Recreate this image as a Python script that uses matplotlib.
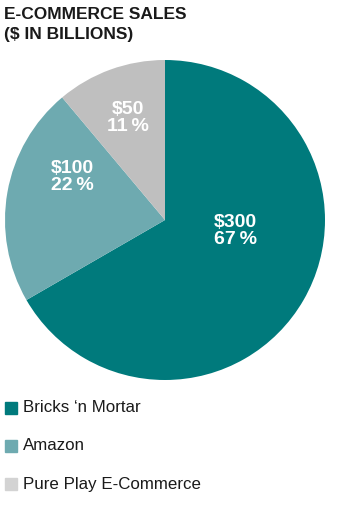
import matplotlib.pyplot as plt
from matplotlib.patches import Rectangle

# data
categories = ['Bricks \u2018n Mortar', 'Amazon', 'Pure Play E-Commerce']
sales = [300, 100, 50]
pct_labels = ['67\u2009%', '22\u2009%', '11\u2009%']
colors = ['#007a7c', '#6eaab0', '#bfbfbf']
legend_colors = ['#007a7c', '#6eaab0', '#d3d3d3']
# label spots inside each slice (data coords of the pie axes)
label_xy = [(0.44, -0.07), (-0.58, 0.27), (-0.23, 0.64)]

plt.rcParams['font.family'] = ['Liberation Sans', 'DejaVu Sans']

fig = plt.figure(figsize=(3.53, 5.11), dpi=100)
W, H = 353, 511

ax = fig.add_axes([5 / W, (H - 380) / H, 320 / W, 320 / H])
ax.pie(sales, colors=colors, startangle=90, counterclock=False,
       radius=1, wedgeprops=dict(linewidth=0))
ax.set_xlim(-1, 1)
ax.set_ylim(-1, 1)
ax.set_aspect('equal')
ax.axis('off')

for (x, y), v, p in zip(label_xy, sales, pct_labels):
    ax.text(x, y, f'${v}\n{p}', color='white', fontsize=14, fontweight='bold',
            ha='center', va='center', linespacing=1.0)

# title
fig.text(4 / W, 1 - 7 / H, 'E-COMMERCE SALES\n($ IN BILLIONS)', fontsize=12.5,
         fontweight='bold', color='#1a1a1a', ha='left', va='top', linespacing=1.45)

# legend
for i, (name, c) in enumerate(zip(categories, legend_colors)):
    yc = 408 + i * 38
    fig.patches.append(Rectangle((5 / W, 1 - (yc + 6) / H), 12 / W, 12 / H,
                                 transform=fig.transFigure, color=c))
    fig.text(23 / W, 1 - yc / H, name, fontsize=12.2, color='#1a1a1a',
             ha='left', va='center')

fig.savefig('out.png', dpi=100)
